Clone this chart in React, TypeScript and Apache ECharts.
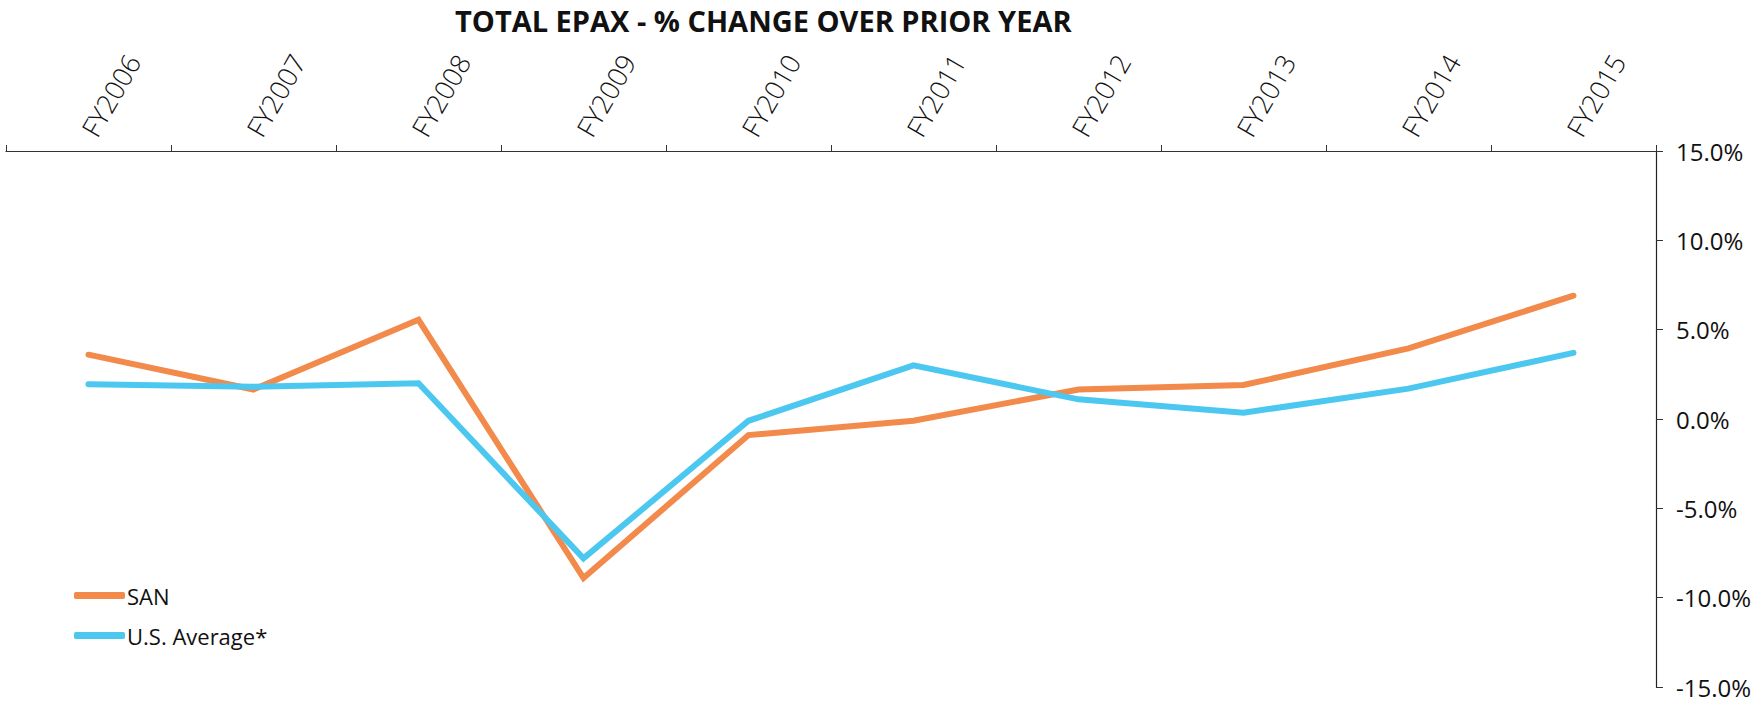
import React, { useEffect, useRef } from "react";
import * as echarts from "echarts";

const categories = ["FY2006", "FY2007", "FY2008", "FY2009", "FY2010", "FY2011", "FY2012", "FY2013", "FY2014", "FY2015"];
const sanValues = [3.6, 1.65, 5.55, -8.9, -0.9, -0.1, 1.65, 1.9, 3.95, 6.9];
const usAvgValues = [1.95, 1.8, 2.0, -7.8, -0.1, 3.0, 1.1, 0.35, 1.7, 3.7];
const seriesNames = ["SAN", "U.S. Average*"];
const titleText = "TOTAL EPAX - % CHANGE OVER PRIOR YEAR";

const ORANGE = "#F28A4B";
const BLUE = "#4CC8F0";
const FONT = "'Open Sans', 'Noto Sans', sans-serif";

export default function App() {
  const ref = useRef<HTMLDivElement>(null);

  useEffect(() => {
    if (!ref.current) return;
    const chart = echarts.init(ref.current, undefined, { renderer: "svg" });
    chart.setOption({
      animation: false,
      backgroundColor: "#ffffff",
      title: {
        text: titleText,
        left: 455,
        top: 4,
        padding: 0,
        textStyle: { fontFamily: FONT, fontSize: 29, fontWeight: "bold", color: "#111", lineHeight: 32 },
      },
      legend: {
        orient: "vertical",
        left: 69,
        top: 578,
        itemWidth: 51,
        itemHeight: 7,
        itemGap: 15,
        icon: "roundRect",
        data: seriesNames,
        textStyle: { fontFamily: FONT, fontSize: 22, color: "#111", lineHeight: 25, padding: [0, 0, 0, -3] },
      },
      grid: { left: 6, right: 97, top: 151, bottom: 16, containLabel: false },
      xAxis: {
        type: "category",
        position: "top",
        data: categories,
        boundaryGap: true,
        axisLine: { show: true, onZero: false, lineStyle: { color: "#333", width: 1.2 } },
        axisTick: { show: true, length: 6, lineStyle: { color: "#333" } },
        axisLabel: {
          rotate: -60,
          margin: 17,
          fontFamily: FONT,
          fontSize: 27,
          fontWeight: 300,
          color: "#111",
        },
        splitLine: { show: false },
      },
      yAxis: {
        type: "value",
        position: "right",
        min: -15,
        max: 15,
        interval: 5,
        axisLine: { show: true, onZero: false, lineStyle: { color: "#222", width: 1.2 } },
        axisTick: { show: true, length: 7, lineStyle: { color: "#333" } },
        axisLabel: {
          margin: 20,
          fontFamily: FONT,
          fontSize: 24,
          fontWeight: 500,
          color: "#111",
          formatter: (v: number) => v.toFixed(1) + "%",
        },
        splitLine: { show: false },
      },
      series: [
        {
          name: seriesNames[0],
          type: "line",
          data: sanValues,
          symbol: "none",
          color: ORANGE,
          lineStyle: { color: ORANGE, width: 6, cap: "round", join: "miter" },
        },
        {
          name: seriesNames[1],
          type: "line",
          data: usAvgValues,
          symbol: "none",
          color: BLUE,
          lineStyle: { color: BLUE, width: 6, cap: "round", join: "miter" },
        },
      ],
    });
    return () => chart.dispose();
  }, []);

  return (
    <div
      ref={ref}
      style={{ position: "fixed", left: 0, top: 0, width: 1754, height: 703, background: "#fff" }}
    />
  );
}
